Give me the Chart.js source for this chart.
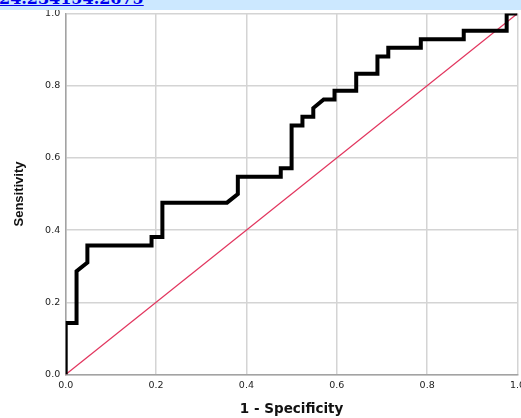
<!DOCTYPE html>
<html>
<head>
<meta charset="utf-8">
<script src="https://cdn.jsdelivr.net/npm/chart.js@4.4.1/dist/chart.umd.min.js"></script>
<style>
  body { margin: 0; background: #fff; }
  #wrap { position: relative; width: 521px; height: 418px; overflow: hidden; }
  #banner {
    position: absolute; left: 0; top: 0; width: 521px; height: 9.5px;
    background: #cce8ff; overflow: hidden; z-index: 2;
  }
  #banner a {
    position: absolute; left: -1px; top: -11px;
    font: bold 16px "DejaVu Serif", serif; color: #0000ee;
    text-decoration: underline; white-space: nowrap;
  }
</style>
</head>
<body>
<div id="wrap">
  <div id="banner"><a href="#">24.234154.2675</a></div>
  <canvas id="roc"></canvas>
</div>
<script>
// ROC curve (steps of ~1/42)
const fpr = [0, 0, 0.024, 0.024, 0.048, 0.048, 0.190, 0.190, 0.214, 0.214,
    0.357, 0.381, 0.381, 0.476, 0.476, 0.500, 0.500, 0.524, 0.524, 0.548,
    0.548, 0.571, 0.595, 0.595, 0.643, 0.643, 0.690, 0.690, 0.714, 0.714,
    0.786, 0.786, 0.881, 0.881, 0.976, 0.976, 1.0]
const tpr = [0, 0.143, 0.143, 0.286, 0.310, 0.357, 0.357, 0.381, 0.381, 0.476,
    0.476, 0.500, 0.548, 0.548, 0.571, 0.571, 0.690, 0.690, 0.714, 0.714,
    0.738, 0.762, 0.762, 0.786, 0.786, 0.833, 0.833, 0.881, 0.881, 0.905,
    0.905, 0.929, 0.929, 0.952, 0.952, 1.0, 1.0]

// reference line
const refX = [0, 1]
const refY = [0, 1]

const xTitle = '1 - Specificity'
const yTitle = 'Sensitivity'

const toPoints = (xs, ys) => xs.map((x, i) => ({ x: x, y: ys[i] }))

const tickFont = { family: 'DejaVu Sans', size: 9.5 }
const gridColor = '#d4d4d4'
const axisColor = '#a3a3a3'

const ctx = document.getElementById('roc').getContext('2d')

new Chart(ctx, {
    type: 'scatter',
    data: {
        datasets: [
            {
                label: 'ROC',
                data: toPoints(fpr, tpr),
                showLine: true,
                borderColor: '#000000',
                borderWidth: 4,
                pointRadius: 0,
                fill: false,
                order: 1
            },
            {
                label: 'Reference',
                data: toPoints(refX, refY),
                showLine: true,
                borderColor: '#e2365f',
                borderWidth: 1.2,
                pointRadius: 0,
                fill: false,
                order: 2
            }
        ]
    },
    options: {
        responsive: true,
        maintainAspectRatio: false,
        animation: false,
        devicePixelRatio: 1,
        layout: {
            padding: { left: 0, right: 3.5, top: 13.5, bottom: 0 }
        },
        plugins: {
            legend: { display: false },
            tooltip: { enabled: false }
        },
        scales: {
            x: {
                type: 'linear',
                min: 0,
                max: 1,
                ticks: {
                    stepSize: 0.2,
                    color: '#222',
                    font: tickFont,
                    padding: 5,
                    maxRotation: 0,
                    callback: v => v.toFixed(1)
                },
                grid: { color: gridColor, lineWidth: 1.5, drawTicks: false },
                border: { color: axisColor, width: 1.5 },
                title: {
                    display: true,
                    text: xTitle,
                    color: '#111',
                    font: { family: 'DejaVu Sans', size: 13.5, weight: 'bold' },
                    padding: { top: 0, bottom: 0 }
                },
                afterFit: scale => {
                    scale.height = 43.5
                    scale.paddingLeft = 0
                    scale.paddingRight = 0
                }
            },
            y: {
                type: 'linear',
                min: 0,
                max: 1,
                ticks: {
                    stepSize: 0.2,
                    color: '#222',
                    font: tickFont,
                    padding: 5.5,
                    callback: v => v.toFixed(1)
                },
                grid: { color: gridColor, lineWidth: 1.5, drawTicks: false },
                border: { color: axisColor, width: 1.5 },
                title: {
                    display: true,
                    text: yTitle,
                    color: '#111',
                    font: { family: 'Liberation Sans', size: 13, weight: 'bold' },
                    padding: { top: 12, bottom: 0 }
                },
                afterFit: scale => {
                    scale.width = 65.7
                    scale.paddingTop = 0
                    scale.paddingBottom = 0
                }
            }
        }
    }
})
</script>
</body>
</html>
